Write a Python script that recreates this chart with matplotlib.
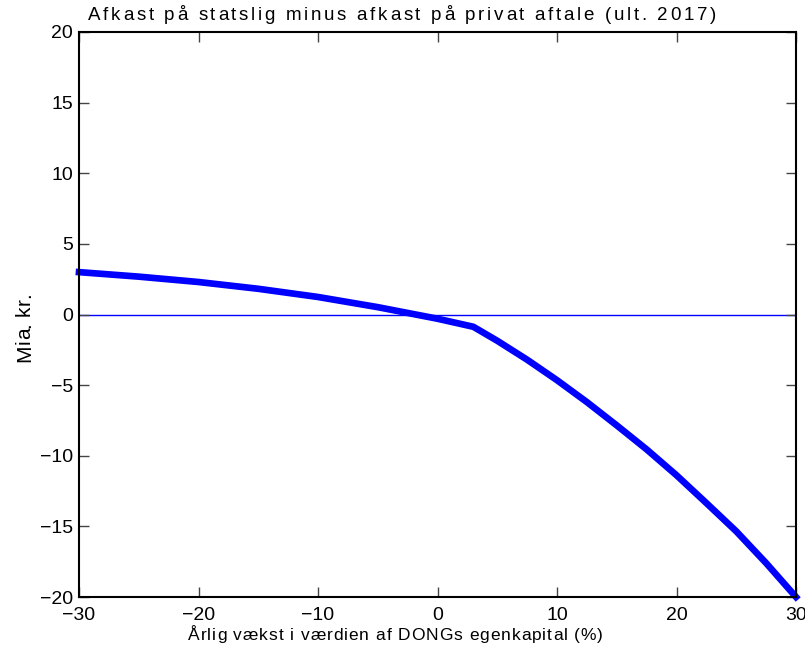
import matplotlib
matplotlib.use("Agg")
import matplotlib.pyplot as plt
from matplotlib.font_manager import FontProperties

# --- data ---
growth = [-30, -25, -20, -15, -10, -5, 0, 3, 5, 7.5, 10, 12.5, 15, 17.5, 20, 22.5, 25, 27.5, 30]
diff = [3.0, 2.68, 2.3, 1.82, 1.24, 0.52, -0.3, -0.87, -1.86, -3.2, -4.65, -6.2, -7.85,
        -9.55, -11.38, -13.35, -15.35, -17.6, -20.0]

xticks = [-30, -20, -10, 0, 10, 20, 30]
yticks = [-20, -15, -10, -5, 0, 5, 10, 15, 20]

title = "Afkast på statslig minus afkast på privat aftale (ult. 2017)"
xlabel = "Årlig vækst i værdien af DONGs egenkapital (%)"
ylabel = "Mia. kr."

W, H = 805, 648
plt.rcParams['font.family'] = ['Liberation Sans', 'DejaVu Sans']


def spaced_text(fig, s, start, end, base, size, vertical=False):
    """Letter-spaced text stretched between start and end (image pixels)."""
    r = fig.canvas.get_renderer()
    prop = FontProperties(family=['Liberation Sans', 'DejaVu Sans'], size=size)
    bar = r.get_text_width_height_descent("|", prop, ismath=False)[0]

    def width(t):
        return r.get_text_width_height_descent(t + "|", prop, ismath=False)[0] - bar

    adv = [width(s[:i]) for i in range(len(s))]
    total = width(s)
    track = ((end - start) - total) / (len(s) - 1)
    for i, ch in enumerate(s):
        if ch == " ":
            continue
        off = adv[i] + track * i
        if vertical:
            x, y = base, H - end + off
            rot = 90
        else:
            x, y = start + off, H - base
            rot = 0
        fig.text(x / W, y / H, ch, fontproperties=prop, ha='left', va='baseline',
                 rotation=rot, rotation_mode='anchor')


fig = plt.figure(figsize=(W / 100, H / 100), dpi=100)
ax = fig.add_axes([79 / W, 1 - 597 / H, (796 - 79) / W, (597 - 32) / H])

ax.axhline(0, color='#0000ff', lw=1.0, zorder=1)
ax.plot(growth, diff, color='#0000ff', lw=4.8, zorder=2, clip_on=False)

ax.set_xlim(-30, 30)
ax.set_ylim(-20, 20)
ax.set_xticks(xticks)
ax.set_yticks(yticks)
ax.tick_params(direction='in', length=7, width=1, color='#444444', labelsize=14,
               top=True, right=True)
ax.tick_params(axis='x', pad=7)
ax.tick_params(axis='y', pad=4.5)
for sp in ax.spines.values():
    sp.set_linewidth(1.5)

spaced_text(fig, title, 88, 716, 20.5, 13.5)
spaced_text(fig, xlabel, 188, 603, 640, 12.5)
spaced_text(fig, ylabel, 293, 362, 30, 15, vertical=True)

fig.savefig("out.png", dpi=100)
